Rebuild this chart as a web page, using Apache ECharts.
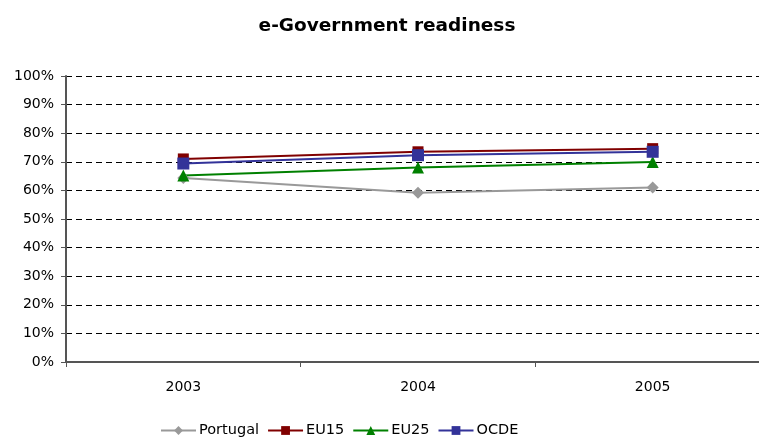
<!DOCTYPE html>
<html><head><meta charset="utf-8">
<script src="https://cdn.jsdelivr.net/npm/echarts@6/dist/echarts.min.js"></script>
<style>html,body{margin:0;padding:0;background:#fff;overflow:hidden;width:759px;height:437px}#c{width:774px;height:437px}</style>
</head><body><div id="c"></div>
<script>
const categories = ['2003', '2004', '2005'];
const portugal = [64.3, 59.2, 61.0];
const eu15 = [71.0, 73.5, 74.6];
const eu25 = [65.2, 68.0, 69.9];
const ocde = [69.4, 72.3, 73.5];
const yTicks = [0, 10, 20, 30, 40, 50, 60, 70, 80, 90, 100];

const font = 'DejaVu Sans';
const chart = echarts.init(document.getElementById('c'));
function s(name, data, color, symbol, size) {
  return {name, type: 'line', data, symbol, symbolSize: size,
    lineStyle: {color, width: 2}, itemStyle: {color}, animation: false};
}
chart.setOption({
  animation: false,
  title: {text: 'e-Government readiness', left: 'center', top: 12,
    textStyle: {fontFamily: font, fontSize: 18.5, fontWeight: 'bold', color: '#000'}},
  grid: {left: 66, top: 76, bottom: 75, right: 4},
  xAxis: {type: 'category', data: categories, boundaryGap: true,
    axisLine: {lineStyle: {color: '#555', width: 2}},
    axisTick: {show: true, length: 5, lineStyle: {color: '#555'}},
    axisLabel: {fontFamily: font, fontSize: 14, color: '#000', margin: 18}},
  yAxis: {type: 'value', min: 0, max: 100, interval: 10,
    axisLine: {show: true, lineStyle: {color: '#555', width: 2}},
    axisTick: {show: true, length: 5, lineStyle: {color: '#555'}},
    axisLabel: {fontFamily: font, fontSize: 14, color: '#000', margin: 12,
      formatter: v => yTicks.includes(v) ? v + '%' : ''},
    splitLine: {show: true, lineStyle: {color: '#000', type: [6, 4], width: 1}}},
  legend: {bottom: -6, left: 155, itemWidth: 35, itemHeight: 11, itemGap: 8,
    textStyle: {fontFamily: font, fontSize: 14.5, color: '#000', padding: [0, 0, 0, -2]},
    data: ['Portugal', 'EU15', 'EU25', 'OCDE']},
  series: [
    s('Portugal', portugal, '#999999', 'diamond', 12),
    s('EU15', eu15, '#800000', 'rect', 11),
    s('EU25', eu25, '#008000', 'triangle', 12),
    s('OCDE', ocde, '#333399', 'rect', 12)
  ]
});
</script></body></html>
